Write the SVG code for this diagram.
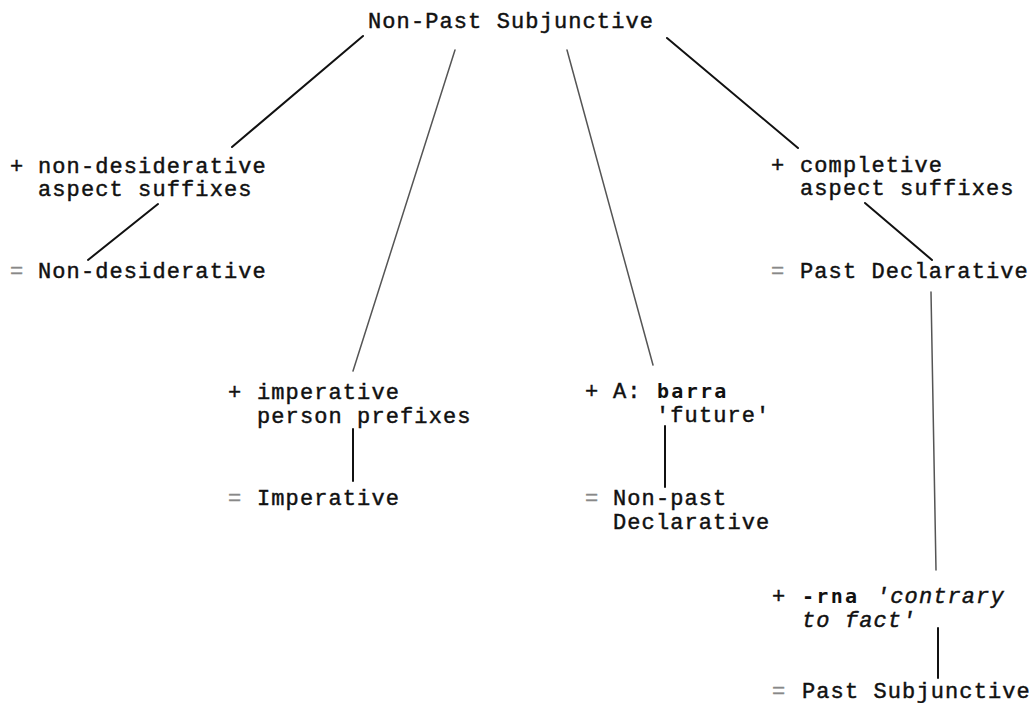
<svg xmlns="http://www.w3.org/2000/svg" width="1033" height="703" viewBox="0 0 1033 703">
<style>
text{font-family:"Liberation Mono","Courier New",monospace;font-size:22px;letter-spacing:1.1px;fill:#111;stroke:#111;stroke-width:0.45}
.eq{fill:#888;stroke:#888}
.sans{font-family:"DejaVu Sans Mono",monospace;font-size:20px;letter-spacing:2.3px;font-weight:bold;stroke-width:0}
.it{font-style:italic}
.c{stroke:#111;stroke-width:2;fill:none;stroke-linecap:round}
.t{stroke:#555;stroke-width:1.5;fill:none;stroke-linecap:round}
</style>
<rect width="1033" height="703" fill="#fff"/>
<g id="connectors">
<line class="c" x1="363" y1="36" x2="232" y2="147"/>
<line class="t" x1="455" y1="50" x2="353" y2="371"/>
<line class="t" x1="567" y1="50" x2="653" y2="365"/>
<line class="c" x1="667" y1="38" x2="798" y2="148"/>
<line class="c" x1="158" y1="204" x2="88" y2="260"/>
<line class="c" x1="865" y1="203" x2="932" y2="260"/>
<line class="c" x1="353" y1="429" x2="353" y2="481"/>
<line class="c" x1="665" y1="426" x2="665" y2="487"/>
<line class="t" x1="931" y1="292" x2="936" y2="570"/>
<line class="c" x1="938" y1="628" x2="938" y2="678"/>
</g>
<g id="root"><text x="368" y="28">Non-Past Subjunctive</text></g>
<g id="n-nondes-suffix"><text x="10" y="173">+</text><text x="38" y="173">non-desiderative</text><text x="38" y="196">aspect suffixes</text></g>
<g id="n-nondes"><text class="eq" x="10" y="278">=</text><text x="38" y="278">Non-desiderative</text></g>
<g id="n-imp-prefix"><text x="228" y="399">+</text><text x="257" y="399">imperative</text><text x="257" y="423">person prefixes</text></g>
<g id="n-imp"><text class="eq" x="228" y="505">=</text><text x="257" y="505">Imperative</text></g>
<g id="n-barra"><text x="585" y="398">+</text><text x="613" y="398">A:</text><text class="sans" x="657" y="398">barra</text><text x="656" y="422">'future'</text></g>
<g id="n-npdecl"><text class="eq" x="585" y="505">=</text><text x="613" y="505">Non-past</text><text x="613" y="529">Declarative</text></g>
<g id="n-compl-suffix"><text x="771" y="172">+</text><text x="800" y="172">completive</text><text x="800" y="195">aspect suffixes</text></g>
<g id="n-pastdecl"><text class="eq" x="771" y="278">=</text><text x="800" y="278">Past Declarative</text></g>
<g id="n-rna"><text x="772" y="603">+</text><text class="sans" x="802" y="603">-rna</text><text class="it" x="876" y="603">'contrary</text><text class="it" x="802" y="627">to fact'</text></g>
<g id="n-pastsubj"><text class="eq" x="772" y="698">=</text><text x="802" y="698">Past Subjunctive</text></g>
</svg>
